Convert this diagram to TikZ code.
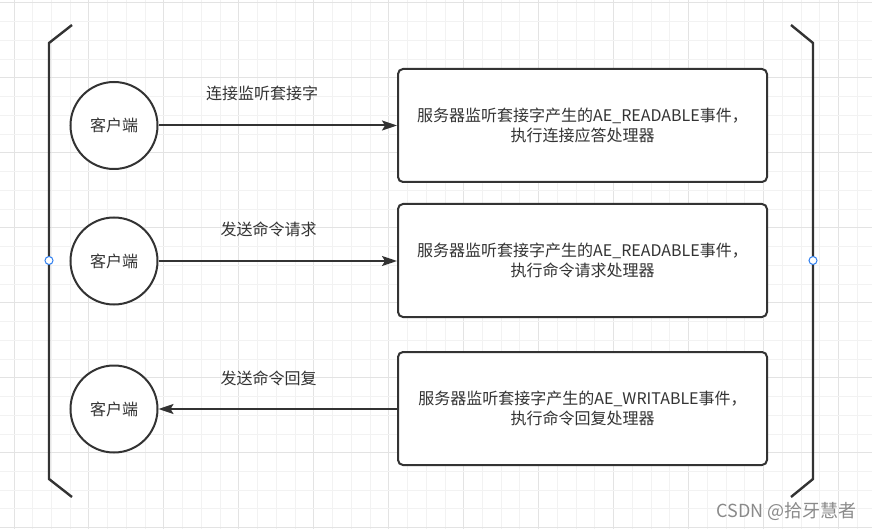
\documentclass[tikz,border=0pt]{standalone}
\usepackage{fontspec}
\setmainfont{Noto Sans CJK SC}
\usetikzlibrary{arrows.meta}
\definecolor{ink}{HTML}{333333}
\definecolor{gridminor}{HTML}{F2F2F2}
\definecolor{gridmajor}{HTML}{E3E3E3}
\definecolor{pointblue}{HTML}{2F7FF0}
\definecolor{wm}{HTML}{8A8A8A}
\tikzset{
  client/.style={circle, draw=ink, line width=2pt, minimum size=87pt, inner sep=0pt, fill=white, text=ink, font=\fontsize{16}{20}\selectfont},
  server/.style={rectangle, rounded corners=5pt, draw=ink, line width=2pt, minimum width=369pt, minimum height=113pt, fill=white, text=ink, align=center, font=\fontsize{16}{20}\selectfont},
  flow/.style={draw=ink, line width=2pt, -{Stealth[length=15pt,width=10pt,inset=3pt]}},
  lbl/.style={text=ink, font=\fontsize{16}{20}\selectfont, inner sep=0pt},
  bracket/.style={draw=ink, line width=2.4pt, line join=miter},
  pin/.style={circle, draw=pointblue, fill=white, line width=1pt, minimum size=8pt, inner sep=0pt},
}
\begin{document}
\begin{tikzpicture}[x=1pt,y=-1pt]
\useasboundingbox (0,0) rectangle (872,529);
\fill[white] (0,0) rectangle (872,529);
% grid
\foreach \k in {0,...,46} {
  \pgfmathsetmacro{\gx}{14+18.74*\k}
  \pgfmathtruncatemacro{\m}{mod(\k,4)}
  \ifnum\m=0 \draw[gridmajor, line width=1pt] (\gx,0) -- (\gx,529);
  \else \draw[gridminor, line width=1pt] (\gx,0) -- (\gx,529); \fi
}
\foreach \k in {0,...,28} {
  \pgfmathsetmacro{\gy}{3+18.74*\k}
  \pgfmathtruncatemacro{\m}{mod(\k,4)}
  \ifnum\m=0 \draw[gridmajor, line width=1pt] (0,\gy) -- (872,\gy);
  \else \draw[gridminor, line width=1pt] (0,\gy) -- (872,\gy); \fi
}
% brackets
\draw[bracket] (72,25) -- (49,43) -- (49,479) -- (72,497);
\draw[bracket] (791,25) -- (813,43) -- (813,479) -- (791,497);
\node[pin] (pl) at (49,260.5) {};
\node[pin] (pr) at (813,260.5) {};
% clients
\node[client] (c1) at (114,125.5) {客户端};
\node[client] (c2) at (114,261) {客户端};
\node[client] (c3) at (114,409) {客户端};
% servers
\node[server] (s1) at (582.5,125.5) {服务器监听套接字产生的AE\_READABLE事件，\\执行连接应答处理器};
\node[server] (s2) at (582.5,260.5) {服务器监听套接字产生的AE\_READABLE事件，\\执行命令请求处理器};
\node[server] (s3) at (582.5,408.5) {服务器监听套接字产生的AE\_WRITABLE事件，\\执行命令回复处理器};
% arrows
\draw[flow] (c1.east) -- (s1.west |- c1.east);
\draw[flow] (c2.east) -- (s2.west |- c2.east);
\draw[flow] (s3.west |- c3.east) -- (c3.east);
% labels
\node[lbl] (l1) at (262,93) {连接监听套接字};
\node[lbl] (l2) at (268.5,229) {发送命令请求};
\node[lbl] (l3) at (268.5,378) {发送命令回复};
% watermark
\node[text=wm, anchor=east, inner sep=0pt, font=\fontsize{18}{20}\selectfont] (wmk) at (857,511) {CSDN @拾牙慧者};
\end{tikzpicture}
\end{document}
